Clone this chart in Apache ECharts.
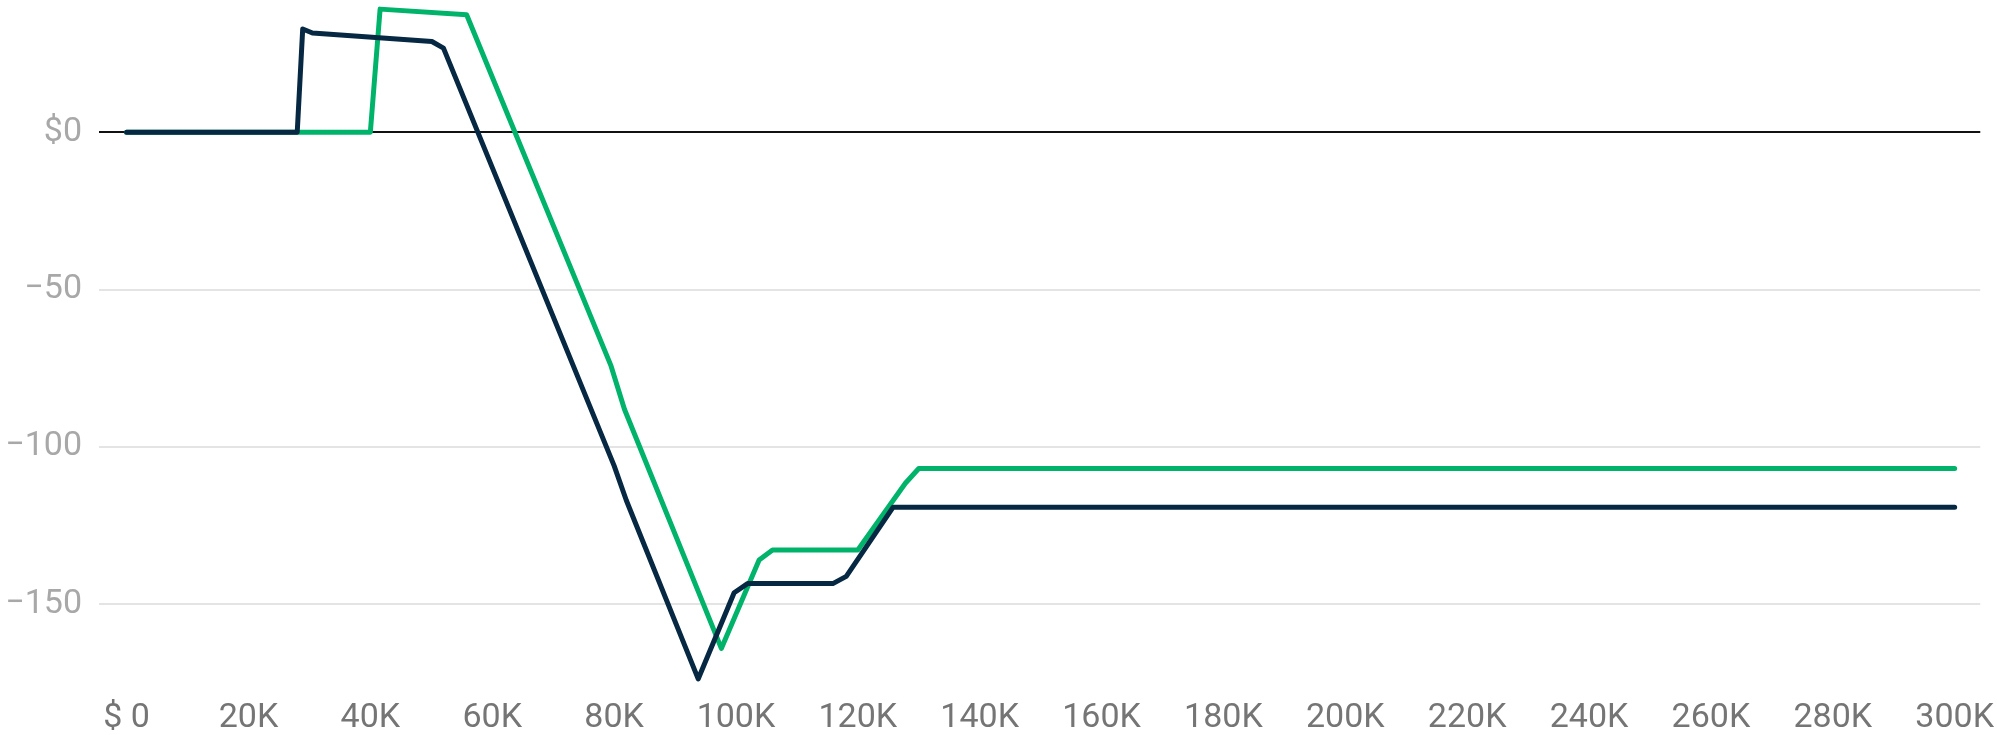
<!DOCTYPE html>
<html>
<head>
<meta charset="utf-8">
<script src="https://cdn.jsdelivr.net/npm/echarts@6/dist/echarts.min.js"></script>
<style>
html,body{margin:0;padding:0;background:#fff;}
#chart{width:1997px;height:735px;}
</style>
</head>
<body>
<div id="chart"></div>
<script>
// Income (thousands of $) and values
const darkX  = [0, 28, 28.9, 30.5, 50.1, 52, 80, 82, 93.8, 99.7, 101.9, 115.9, 118.1, 125.8, 300];
const darkY  = [0, 0, 32.8, 31.5, 28.8, 26.7, -106, -117, -173.8, -146.4, -143.5, -143.5, -141.2, -119.2, -119.2];
const greenX = [0, 40, 41.6, 55.8, 79.5, 81.7, 97.6, 103.8, 106, 120, 127.8, 130, 300];
const greenY = [0, 0, 39.1, 37.3, -74.3, -88.1, -164.1, -136, -132.8, -132.8, -111.6, -106.9, -106.9];

const xTickValues = [0, 20, 40, 60, 80, 100, 120, 140, 160, 180, 200, 220, 240, 260, 280, 300];
const xTickLabels = ['$ 0', '20K', '40K', '60K', '80K', '100K', '120K', '140K', '160K', '180K', '200K', '220K', '240K', '260K', '280K', '300K'];
const yTickValues = [0, -50, -100, -150];
const yTickLabels = ['$0', '\u221250', '\u2212100', '\u2212150'];

const toPairs = (xs, ys) => xs.map((x, i) => [x, ys[i]]);

const chart = echarts.init(document.getElementById('chart'));
chart.setOption({
  animation: false,
  backgroundColor: '#ffffff',
  grid: { left: 99, right: 12, top: 0, bottom: 45, containLabel: false },
  xAxis: {
    type: 'value',
    min: -4.53,
    max: 304.2,
    axisLine: { show: false },
    axisTick: { show: false, customValues: xTickValues },
    splitLine: { show: false },
    axisLabel: {
      customValues: xTickValues,
      margin: 12,
      color: '#757575',
      fontFamily: 'Roboto',
      fontSize: 34,
      formatter: v => xTickLabels[xTickValues.indexOf(Math.round(v))] || ''
    }
  },
  yAxis: {
    type: 'value',
    min: -177,
    max: 42,
    axisLine: { show: false },
    axisTick: { show: false, customValues: yTickValues },
    axisLabel: {
      customValues: yTickValues,
      margin: 17,
      color: '#a8a8a8',
      fontFamily: 'Roboto',
      fontSize: 34,
      formatter: v => yTickLabels[yTickValues.indexOf(Math.round(v))] || ''
    },
    splitLine: {
      show: true,
      lineStyle: { color: ['#111111', '#e4e4e4', '#e4e4e4', '#e4e4e4'], width: 2 }
    }
  },
  series: [
    {
      type: 'line',
      data: toPairs(greenX, greenY),
      symbol: 'none',
      lineStyle: { color: '#00b36b', width: 5, join: 'round', cap: 'round' },
      itemStyle: { color: '#00b36b' },
      z: 2
    },
    {
      type: 'line',
      data: toPairs(darkX, darkY),
      symbol: 'none',
      lineStyle: { color: '#062843', width: 5, join: 'round', cap: 'round' },
      itemStyle: { color: '#062843' },
      z: 3
    }
  ]
});
</script>
</body>
</html>
